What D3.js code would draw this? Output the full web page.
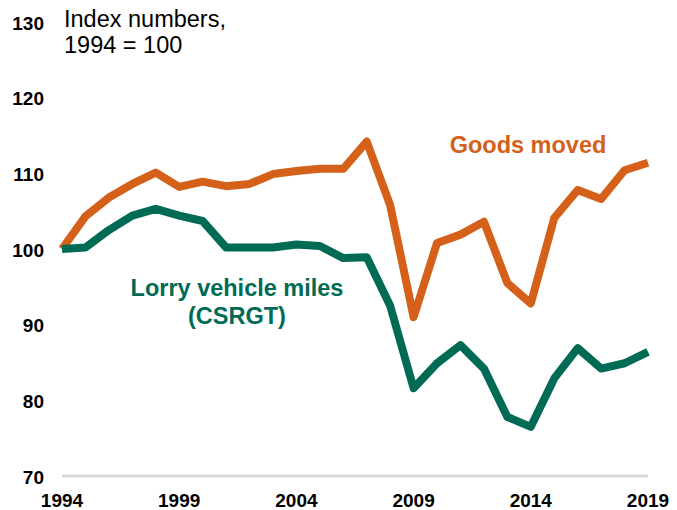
<!DOCTYPE html>
<html>
<head>
<meta charset="utf-8">
<script src="https://cdn.jsdelivr.net/npm/d3@7"></script>
<style>
html,body{margin:0;padding:0;background:#fff;}
svg{display:block;font-family:"Liberation Sans",Arial,sans-serif;}
</style>
</head>
<body>
<svg id="chart" width="677" height="510"></svg>
<script>
const years = d3.range(1994, 2020);
const goodsMoved = [100, 104.3, 106.8, 108.6, 110.1, 108.2, 108.9, 108.3, 108.6, 109.9, 110.3, 110.6, 110.6, 114.2, 105.8, 91.0, 100.8, 101.9, 103.6, 95.5, 92.8, 104.1, 107.8, 106.6, 110.4, 111.4];
const lorryMiles = [100, 100.2, 102.5, 104.4, 105.3, 104.4, 103.7, 100.2, 100.2, 100.2, 100.6, 100.4, 98.8, 98.9, 92.5, 81.6, 84.9, 87.3, 84.2, 77.8, 76.5, 82.9, 86.9, 84.2, 84.9, 86.4];
const yTicks = [70, 80, 90, 100, 110, 120, 130];
const xTicks = [1994, 1999, 2004, 2009, 2014, 2019];
const seriesNames = ["Goods moved", ["Lorry vehicle miles", "(CSRGT)"]];
const unitLabel = ["Index numbers,", "1994 = 100"];

const svg = d3.select("#chart");
const x = d3.scaleLinear().domain([1994, 2019]).range([62, 648]);
const y = d3.scaleLinear().domain([70, 130]).range([476, 22]);

const orange = "#D5601A", green = "#006B54";

// baseline axis
svg.append("line")
  .attr("x1", x(1994)).attr("x2", x(2019))
  .attr("y1", y(70)).attr("y2", y(70))
  .attr("stroke", "#d9d9d9").attr("stroke-width", 3);

// y tick labels
svg.append("g").selectAll("text").data(yTicks).join("text")
  .attr("x", 44).attr("y", d => y(d))
  .attr("dy", "0.41em")
  .attr("text-anchor", "end")
  .attr("font-size", 19).attr("font-weight", "bold").attr("fill", "#000")
  .text(d => d);

// x tick labels
svg.append("g").selectAll("text").data(xTicks).join("text")
  .attr("x", d => x(d)).attr("y", 507)
  .attr("text-anchor", "middle")
  .attr("font-size", 19).attr("font-weight", "bold").attr("fill", "#000")
  .text(d => d);

// unit label
svg.append("text").attr("x", 64).attr("y", 27)
  .attr("font-size", 23.5).attr("fill", "#000")
  .selectAll("tspan").data(unitLabel).join("tspan")
  .attr("x", 64).attr("dy", (d, i) => i ? 26 : 0)
  .text(d => d);

const line = d3.line().x((d, i) => x(years[i])).y(d => y(d));

svg.append("path").datum(goodsMoved)
  .attr("d", line).attr("fill", "none")
  .attr("stroke", orange).attr("stroke-width", 8)
  .attr("stroke-linejoin", "round");

svg.append("path").datum(lorryMiles)
  .attr("d", line).attr("fill", "none")
  .attr("stroke", green).attr("stroke-width", 8)
  .attr("stroke-linejoin", "round");

// series labels
svg.append("text").attr("x", 528).attr("y", 153)
  .attr("text-anchor", "middle")
  .attr("font-size", 23.5).attr("font-weight", "bold").attr("fill", orange)
  .text(seriesNames[0]);

svg.append("text").attr("y", 296)
  .attr("text-anchor", "middle")
  .attr("font-size", 23.5).attr("font-weight", "bold").attr("fill", green)
  .selectAll("tspan").data(seriesNames[1]).join("tspan")
  .attr("x", 237).attr("dy", (d, i) => i ? 28 : 0)
  .text(d => d);
</script>
</body>
</html>
